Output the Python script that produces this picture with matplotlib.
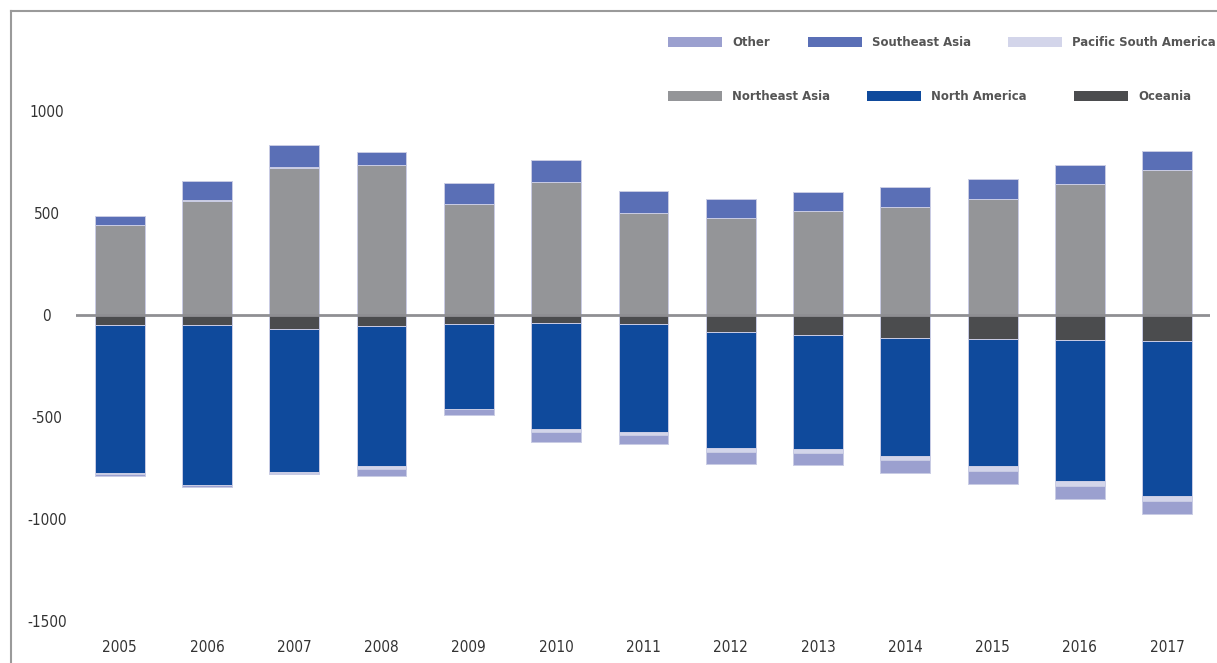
import matplotlib
matplotlib.use("Agg")
import matplotlib.pyplot as plt
from matplotlib import font_manager
from matplotlib.patches import Rectangle
from matplotlib.lines import Line2D
import numpy as np

years = ["2005", "2006", "2007", "2008", "2009", "2010", "2011",
         "2012", "2013", "2014", "2015", "2016", "2017"]

# positive side (stacked upward)
northeast_asia = [440, 560, 720, 734, 546, 650, 500, 474, 511, 529, 570, 642, 711]
pacific_sa_pos = [3, 6, 6, 0, 0, 0, 0, 0, 0, 0, 0, 0, 0]
southeast_asia = [42, 91, 109, 63, 101, 110, 109, 95, 94, 100, 97, 92, 91]

# negative side (stacked downward)
oceania = [-50, -50, -69, -56, -46, -41, -42, -85, -100, -111, -116, -124, -129]
north_america = [-725, -783, -701, -683, -416, -518, -530, -567, -557, -580, -626, -691, -757]
pacific_sa_neg = [-3, -2, -4, -16, 0, -13, -15, -20, -19, -20, -23, -23, -24]
other = [-10, -6, -5, -33, -30, -52, -47, -57, -58, -62, -62, -66, -67]

yticks = [-1500, -1000, -500, 0, 500, 1000]

c_other = "#9ba0cf"
c_sea = "#5a6fb6"
c_psa = "#d3d5ea"
c_nea = "#949598"
c_na = "#0f4a9c"
c_oce = "#4b4c4e"


def narrow_font(bold):
    """Look for an installed narrow/condensed face; None if there is none."""
    best = None
    for f in font_manager.fontManager.ttflist:
        name = f.name.lower()
        is_narrow = ("narrow" in name or "condensed" in name
                     or str(f.stretch).lower() in ("condensed", "semi-condensed", "extra-condensed"))
        if not is_narrow or f.style != "normal":
            continue
        w = f.weight if isinstance(f.weight, int) else (700 if "bold" in str(f.weight) else 400)
        if (w >= 600) != bold:
            continue
        if best is None or "liberation" in name:
            best = f.fname
    return font_manager.FontProperties(fname=best) if best else None


reg_fp = narrow_font(False)
bold_fp = narrow_font(True)
have_narrow = reg_fp is not None and bold_fp is not None

W, H = 1217, 663
fig = plt.figure(figsize=(W / 100, H / 100), dpi=100)

# axes placement in pixels
left, right, bottom, top = 76, 1210, 621, 9
ax = fig.add_axes([left / W, 1 - bottom / H, (right - left) / W, (bottom - top) / H])

x = np.arange(len(years))
bw = 0.57
edge = dict(edgecolor="#c9cce4", linewidth=0.7)


def stack(series_list, colors):
    base = np.zeros(len(years))
    for vals, col in zip(series_list, colors):
        v = np.array(vals, dtype=float)
        ax.bar(x, v, bw, bottom=base, color=col, zorder=2, **edge)
        base = base + v


stack([northeast_asia, pacific_sa_pos, southeast_asia], [c_nea, c_psa, c_sea])
stack([oceania, north_america, pacific_sa_neg, other], [c_oce, c_na, c_psa, c_other])

ax.axhline(0, color="#8f8f93", lw=2, zorder=3)

ax.set_xlim(-0.5, 12.49)
ax.set_ylim(-1500, 1500)
ax.set_xticks(x)
ax.set_xticklabels(years)
ax.set_yticks(yticks)
ax.set_yticklabels([str(t) for t in yticks])
for s in ax.spines.values():
    s.set_visible(False)
tick_size = 11 if have_narrow else 10
ax.tick_params(axis="both", length=0, labelsize=tick_size, labelcolor="#333333")
ax.tick_params(axis="x", pad=14)
ax.tick_params(axis="y", pad=21)
for lab in ax.get_xticklabels() + ax.get_yticklabels():
    if have_narrow:
        lab.set_fontproperties(reg_fp)
        lab.set_fontsize(tick_size)
    else:
        lab.set_fontfamily("Liberation Sans")
for lab in ax.get_yticklabels():
    lab.set_horizontalalignment("center")

# outer frame lines (top and left)
fig.add_artist(Line2D([11 / W, 1], [1 - 11 / H, 1 - 11 / H], color="#9a9a9a", lw=1.5,
                      transform=fig.transFigure))
fig.add_artist(Line2D([11 / W, 11 / W], [0, 1 - 11 / H], color="#9a9a9a", lw=1.5,
                      transform=fig.transFigure))

# legend entries in two rows
legend_rows = [
    [(668, "Other", c_other), (808, "Southeast Asia", c_sea), (1008, "Pacific South America", c_psa)],
    [(668, "Northeast Asia", c_nea), (867, "North America", c_na), (1074, "Oceania", c_oce)],
]
row_y = [42, 96]
for row, yc in zip(legend_rows, row_y):
    for px, label, col in row:
        fig.add_artist(Rectangle((px / W, 1 - (yc + 5) / H), 54 / W, 10 / H,
                                 facecolor=col, edgecolor="none",
                                 transform=fig.transFigure))
        if have_narrow:
            kw = dict(fontproperties=bold_fp, fontsize=9.4)
        else:
            kw = dict(family="Roboto", fontweight="bold", fontsize=9)
        fig.text((px + 64) / W, 1 - yc / H, label, ha="left", va="center",
                 color="#555555", **kw)

fig.savefig("out.png", dpi=100)
